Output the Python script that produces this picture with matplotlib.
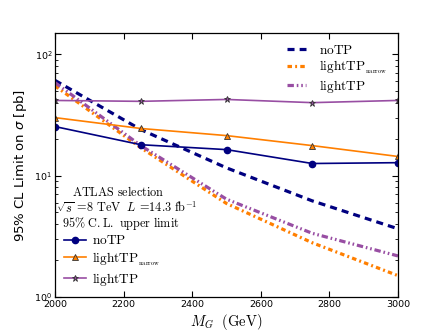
import matplotlib
matplotlib.use("Agg")
import matplotlib.pyplot as plt
from matplotlib.font_manager import FontProperties

mass = [2000, 2250, 2500, 2750, 3000]
obs_noTP = [25.4, 18.0, 16.4, 12.6, 12.8]
obs_narrow = [30.1, 24.5, 21.4, 17.7, 14.4]
obs_lightTP = [41.7, 41.0, 42.5, 40.0, 41.7]
exp_noTP = [61.0, 24.0, 11.6, 6.2, 3.65]
exp_narrow = [55.0, 17.0, 5.9, 2.8, 1.50]
exp_lightTP = [58.5, 17.7, 6.4, 3.35, 2.18]
labels = [r"$\mathrm{noTP}$", r"$\mathrm{lightTP}_{{}_{\mathrm{narrow}}}$", r"$\mathrm{lightTP}$"]

c_blue = "#000080"
c_orange = "#ff7f00"
c_purple = "#984ea3"

fig = plt.figure(figsize=(4.43, 3.32), dpi=100)
ax = fig.add_axes([55/443, 1-297/332, (398-55)/443, (297-33)/332])

lw_e = 2.3
e1, = ax.plot(mass, exp_noTP, color=c_blue, lw=lw_e, dashes=(2.2, 1.6))
e2, = ax.plot(mass, exp_narrow, color=c_orange, lw=lw_e, dashes=(1.4, 1.0, 0.6, 1.0))
e3, = ax.plot(mass, exp_lightTP, color=c_purple, lw=lw_e, dashes=(2.0, 0.9, 0.5, 0.9, 0.5, 0.9))

o1, = ax.plot(mass, obs_noTP, color=c_blue, lw=1.2, marker='o', ms=4.5, mfc=c_blue, mec=c_blue)
o2, = ax.plot(mass, obs_narrow, color=c_orange, lw=1.2, marker='^', ms=4.5, mfc=c_orange, mec='#333333', mew=0.6)
o3, = ax.plot(mass, obs_lightTP, color=c_purple, lw=1.2, marker='*', ms=5, mfc=c_purple, mec='#333333', mew=0.6)

ax.set_yscale('log')
ax.set_xlim(2000, 3000)
ax.set_ylim(1, 150)
ax.set_xticks([2000, 2200, 2400, 2600, 2800, 3000])
ax.tick_params(axis='both', which='both', direction='in', top=True, right=True, labelsize=6.8)
ax.tick_params(axis='both', which='major', length=4, pad=2)
ax.tick_params(axis='both', which='minor', length=2)
for s in ax.spines.values():
    s.set_linewidth(0.9)

ax.set_ylabel(r"95% CL Limit on $\sigma$ [pb]", fontsize=9.5, labelpad=4)
ax.set_xlabel(r"$M_G\ \ \mathrm{(GeV)}$", fontproperties=FontProperties(math_fontfamily='cm', size=10.5), labelpad=2)

lp = FontProperties(math_fontfamily='cm', size=9.6)
leg1 = ax.legend([e1, e2, e3], labels, loc='upper right', frameon=False, prop=lp,
                 handlelength=1.45, handletextpad=1.0, labelspacing=0.12,
                 borderpad=0.3, bbox_to_anchor=(1.0, 1.0))
ax.add_artist(leg1)
leg2 = ax.legend([o1, o2, o3], labels, loc='lower left', frameon=False, prop=lp,
                 handlelength=1.65, handletextpad=0.4, labelspacing=0.2,
                 borderpad=0.2, bbox_to_anchor=(0.0, 0.0))

tp = FontProperties(math_fontfamily='cm', size=8.8)
ax.text(0.185, 0.398, r"$\mathrm{ATLAS\ selection}$", transform=ax.transAxes, ha='center', va='center', fontproperties=tp)
ax.text(0.003, 0.337, r"$\sqrt{s}\,=\!8\ \mathrm{TeV}\ \ L\,=\!14.3\ \mathrm{fb}^{-1}$", transform=ax.transAxes, ha='left', va='center', fontproperties=tp)
ax.text(0.02, 0.28, r"$\mathrm{95\%\ C.L.\ upper\ limit}$", transform=ax.transAxes, ha='left', va='center', fontproperties=tp)

fig.savefig("out.png", dpi=100)
